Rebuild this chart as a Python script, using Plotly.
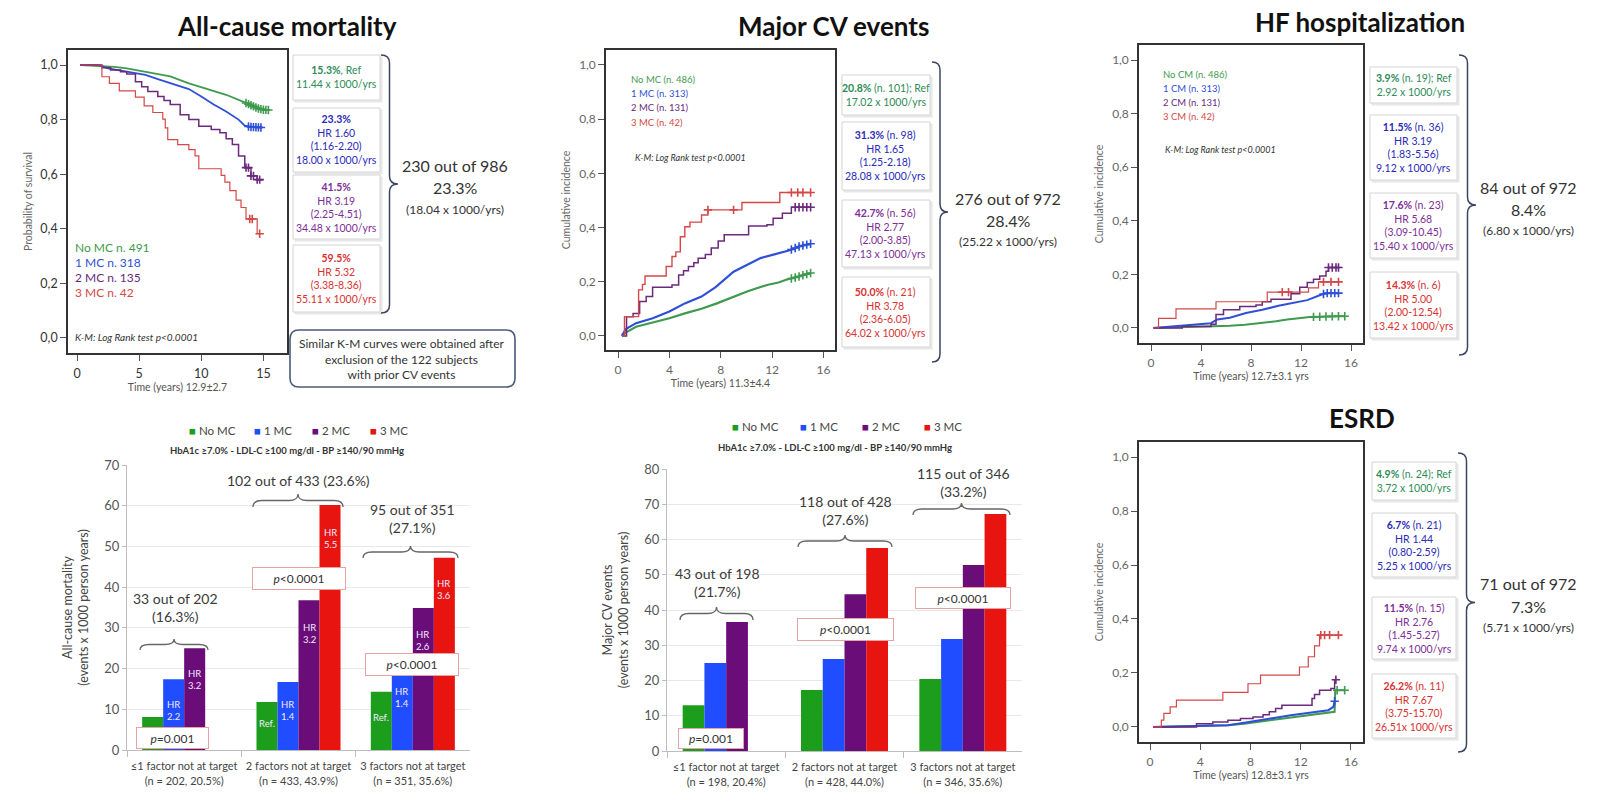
import numpy as np
import plotly.graph_objects as go

W, H = 1614, 807

# ====================== DATA ======================
series_names = ["No MC", "1 MC", "2 MC", "3 MC"]

# --- All-cause mortality: Kaplan-Meier survival ---
acm_nomc_t = [0.25, 2.0, 3.0, 4.0, 5.0, 5.9, 7.5, 9.0, 10.5, 12.0, 13.5, 14.5, 15.0, 15.4]
acm_nomc_s = [1.0, 0.997, 0.993, 0.988, 0.980, 0.972, 0.958, 0.933, 0.912, 0.891, 0.863, 0.842, 0.836, 0.835]
acm_1mc_t = [0.25, 1.7, 2.5, 4.0, 5.5, 6.5, 8.0, 9.0, 10.0, 11.0, 12.0, 13.0, 13.5, 14.0, 14.9]
acm_1mc_s = [1.0, 1.0, 0.988, 0.976, 0.964, 0.948, 0.927, 0.912, 0.885, 0.855, 0.830, 0.800, 0.778, 0.773, 0.771]
acm_2mc_t = [0.25, 2.0, 2.7, 3.5, 4.0, 4.7, 5.2, 5.7, 6.5, 7.0, 7.5, 8.3, 9.0, 9.8, 10.8, 11.5, 12.0, 12.5, 13.0, 13.5, 14.0, 14.5, 14.9]
acm_2mc_s = [1.0, 0.99, 0.982, 0.975, 0.967, 0.939, 0.920, 0.903, 0.885, 0.870, 0.855, 0.818, 0.800, 0.776, 0.764, 0.752, 0.730, 0.709, 0.667, 0.624, 0.594, 0.580, 0.576]
acm_3mc_t = [0.25, 2.0, 2.6, 3.4, 4.7, 5.4, 6.1, 6.9, 7.1, 7.3, 8.1, 9.0, 9.5, 9.8, 11.6, 11.9, 12.3, 12.8, 13.2, 13.6, 14.5, 14.8]
acm_3mc_s = [1.0, 0.957, 0.933, 0.905, 0.882, 0.850, 0.826, 0.802, 0.770, 0.727, 0.708, 0.690, 0.667, 0.620, 0.596, 0.571, 0.540, 0.505, 0.478, 0.436, 0.382, 0.382]

# --- Major CV events: cumulative incidence ---
mcv_nomc_t = [0.3, 0.6, 1.4, 2.7, 4.0, 5.2, 6.5, 7.7, 9.0, 10.1, 11.6, 12.5, 13.1, 14.0, 15.0]
mcv_nomc_y = [0, 0.012, 0.034, 0.050, 0.065, 0.083, 0.100, 0.120, 0.145, 0.165, 0.188, 0.197, 0.207, 0.218, 0.232]
mcv_1mc_t = [0.3, 0.6, 1.4, 2.7, 4.0, 5.2, 6.5, 7.6, 9.0, 10.1, 11.1, 12.1, 13.3, 14.1, 15.0]
mcv_1mc_y = [0, 0.025, 0.047, 0.065, 0.090, 0.120, 0.145, 0.180, 0.237, 0.262, 0.287, 0.300, 0.315, 0.330, 0.340]
mcv_2mc_t = [0.3, 0.66, 1.17, 1.68, 2.19, 2.69, 4.2, 4.72, 5.1, 5.48, 5.9, 6.24, 6.8, 7.26, 7.8, 8.27, 9.9, 10.17, 11.6, 12.08, 12.8, 13.5, 15.0]
mcv_2mc_y = [0, 0.071, 0.083, 0.127, 0.145, 0.180, 0.188, 0.225, 0.240, 0.256, 0.270, 0.287, 0.300, 0.324, 0.350, 0.373, 0.373, 0.406, 0.410, 0.434, 0.453, 0.475, 0.475]
mcv_3mc_t = [0.3, 0.5, 1.6, 1.9, 2.1, 3.75, 4.2, 4.5, 4.85, 5.2, 5.6, 6.5, 7.0, 9.65, 12.6, 15.0]
mcv_3mc_y = [0, 0.071, 0.170, 0.190, 0.221, 0.256, 0.293, 0.310, 0.366, 0.403, 0.420, 0.446, 0.465, 0.492, 0.529, 0.529]

# --- HF hospitalization: cumulative incidence ---
hf_nomc_t = [0.2, 2.0, 4.0, 6.3, 7.5, 8.9, 10.0, 10.9, 12.7, 15.0, 15.5]
hf_nomc_y = [0, 0.002, 0.004, 0.008, 0.012, 0.018, 0.025, 0.032, 0.041, 0.044, 0.044]
hf_1mc_t = [0.2, 2.5, 4.8, 5.3, 6.3, 7.6, 8.9, 10.2, 11.4, 12.5, 13.5, 14.0, 15.0]
hf_1mc_y = [0, 0.008, 0.018, 0.032, 0.038, 0.056, 0.068, 0.083, 0.095, 0.104, 0.122, 0.130, 0.130]
hf_2mc_t = [0.2, 2.5, 4.8, 5.2, 5.8, 7.1, 8.4, 8.9, 9.6, 11.2, 11.9, 12.5, 13.0, 13.5, 14.0, 14.2, 15.0]
hf_2mc_y = [0, 0.006, 0.014, 0.050, 0.068, 0.080, 0.086, 0.098, 0.107, 0.128, 0.152, 0.170, 0.182, 0.194, 0.212, 0.226, 0.226]
hf_3mc_t = [0.2, 0.6, 2.0, 5.2, 9.3, 12.6, 13.4, 15.0]
hf_3mc_y = [0, 0.036, 0.071, 0.098, 0.134, 0.150, 0.172, 0.172]

# --- ESRD: cumulative incidence ---
esrd_nomc_t = [0.24, 4.0, 6.2, 7.5, 8.7, 10.0, 11.2, 12.5, 13.7, 14.7, 14.75, 15.5]
esrd_nomc_y = [0, 0.003, 0.006, 0.012, 0.019, 0.027, 0.035, 0.043, 0.050, 0.056, 0.136, 0.136]
esrd_1mc_t = [0.24, 4.0, 6.2, 7.5, 8.7, 10.0, 11.2, 12.7, 14.2, 14.6, 14.7]
esrd_1mc_y = [0, 0.003, 0.006, 0.015, 0.025, 0.034, 0.043, 0.052, 0.062, 0.074, 0.095]
esrd_2mc_t = [0.24, 3.7, 5.0, 6.2, 7.2, 8.2, 9.0, 9.5, 10.0, 10.5, 12.9, 13.1, 13.5, 14.4, 14.7, 14.8]
esrd_2mc_y = [0, 0.012, 0.018, 0.025, 0.031, 0.037, 0.045, 0.056, 0.068, 0.080, 0.105, 0.120, 0.136, 0.142, 0.175, 0.175]
esrd_3mc_t = [0.24, 0.9, 1.1, 1.6, 2.1, 5.8, 7.8, 8.8, 11.9, 12.6, 13.1, 13.5, 15.0]
esrd_3mc_y = [0, 0.025, 0.050, 0.074, 0.099, 0.128, 0.160, 0.192, 0.222, 0.260, 0.300, 0.340, 0.340]

# censoring marks (times) near the end of follow-up
acm_cens = {"No MC": [13.6, 13.8, 14.0, 14.2, 14.4, 14.6, 14.8, 15.0, 15.2, 15.4],
            "1 MC": [13.8, 14.0, 14.2, 14.4, 14.6, 14.8],
            "2 MC": [13.6, 13.8, 14.0, 14.2, 14.5, 14.7],
            "3 MC": [13.9, 14.1, 14.7]}
mcv_cens = {"No MC": [13.5, 13.8, 14.1, 14.4, 14.7, 15.0],
            "1 MC": [13.5, 13.8, 14.1, 14.4, 14.7, 15.0],
            "2 MC": [13.8, 14.1, 14.4, 14.7, 15.0],
            "3 MC": [7.0, 9.0, 13.5, 14.0, 14.4, 15.0]}
hf_cens = {"No MC": [13.0, 13.5, 14.0, 14.5, 15.0, 15.5],
           "1 MC": [13.8, 14.1, 14.4, 14.7, 15.0],
           "2 MC": [14.2, 14.5, 14.8, 15.0],
           "3 MC": [10.5, 11.0, 13.8, 14.4, 15.0]}
esrd_cens = {"No MC": [14.9, 15.5],
             "1 MC": [14.7],
             "2 MC": [14.8],
             "3 MC": [13.6, 13.9, 14.3, 15.0]}

# --- Bar charts ---
acm_cats = ["≤1 factor not at target<br>(n = 202, 20.5%)",
            "2 factors not at target<br>(n = 433, 43.9%)",
            "3 factors not at target<br>(n = 351, 35.6%)"]
acm_rate_nomc = [8.1, 11.8, 14.3]
acm_rate_1mc = [17.4, 16.7, 20.0]
acm_rate_2mc = [25.0, 36.8, 34.9]
acm_rate_3mc = [None, 60.2, 47.2]

mcv_cats = ["≤1 factor not at target<br>(n = 198, 20.4%)",
            "2 factors not at target<br>(n = 428, 44.0%)",
            "3 factors not at target<br>(n = 346, 35.6%)"]
mcv_rate_nomc = [13.0, 17.3, 20.4]
mcv_rate_1mc = [25.0, 26.1, 31.8]
mcv_rate_2mc = [36.6, 44.5, 52.8]
mcv_rate_3mc = [None, 57.6, 67.2]

acm_hr_nomc = ["", "Ref.", "Ref."]
acm_hr_1mc = ["HR<br>2.2", "HR<br>1.4", "HR<br>1.4"]
acm_hr_2mc = ["HR<br>3.2", "HR<br>3.2", "HR<br>2.6"]
acm_hr_3mc = ["", "HR<br>5.5", "HR<br>3.6"]

# ====================== STYLE / HELPERS ======================
FONT = "Lato, 'Open Sans', sans-serif"
KM_COL = {"No MC": "#3f9a4e", "1 MC": "#2f4fd6", "2 MC": "#6b2a7c", "3 MC": "#d44848"}
TXT_COL = {"No MC": "#2e8b57", "1 MC": "#2a2ab8", "2 MC": "#7e2e96", "3 MC": "#d83232"}
BAR_COL = {"No MC": "#1c9e1c", "1 MC": "#1f4dff", "2 MC": "#6a0d78", "3 MC": "#e81410"}


def px(x):
    return x / W


def py(y):
    return 1 - y / H


annotations = []
shapes = []


def text(x, y, s, size=12, color="#333", xanchor="center", yanchor="middle", align="center", **kw):
    annotations.append(dict(x=px(x), y=py(y), xref="paper", yref="paper", text=s, showarrow=False,
                            xanchor=xanchor, yanchor=yanchor, align=align,
                            font=dict(size=size, color=color, family=FONT), **kw))


def path(points):
    out = ""
    for p in points:
        cmd, coords = p[0], p[1:]
        pairs = []
        for i in range(0, len(coords), 2):
            pairs.append(f"{px(coords[i]):.5f},{py(coords[i + 1]):.5f}")
        out += cmd + " " + " ".join(pairs) + " "
    return out.strip()


def vbrace(x0, x1, y0, y1, color="#3d4660", width=1.5):
    xm, ym, r = (x0 + x1) / 2, (y0 + y1) / 2, 8
    d = path([("M", x0, y0), ("Q", xm, y0, xm, y0 + r), ("L", xm, ym - r), ("Q", xm, ym, x1, ym),
              ("Q", xm, ym, xm, ym + r), ("L", xm, y1 - r), ("Q", xm, y1, x0, y1)])
    shapes.append(dict(type="path", path=d, xref="paper", yref="paper", line=dict(color=color, width=width)))


def hbrace(x0, x1, ybot, ytip, color="#666", width=1.3):
    xm, yc, r = (x0 + x1) / 2, (ybot + ytip) / 2, 9
    d = path([("M", x0, ybot), ("Q", x0, yc, x0 + r, yc), ("L", xm - r, yc), ("Q", xm, yc, xm, ytip),
              ("Q", xm, yc, xm + r, yc), ("L", x1 - r, yc), ("Q", x1, yc, x1, ybot)])
    shapes.append(dict(type="path", path=d, xref="paper", yref="paper", line=dict(color=color, width=width)))


def rect(x0, y0, x1, y1, line="#cfcfcf", fill="white", width=1, layer="below"):
    shapes.append(dict(type="rect", x0=px(x0), x1=px(x1), y0=py(y1), y1=py(y0), xref="paper", yref="paper",
                       line=dict(color=line, width=width), fillcolor=fill, layer=layer))


def side_boxes(x0, x1, boxes, texts):
    for (y0, y1), (g, s) in zip(boxes, texts):
        rect(x0 + 2, y0 + 2, x1 + 2, y1 + 2, line="#e4e4e4", fill="#ececec")
        rect(x0, y0, x1, y1, line="#d4d4d4", fill="white")
        text((x0 + x1) / 2, (y0 + y1) / 2, s, size=10.5, color=TXT_COL[g])


fig = go.Figure()


def km(t, y, group, axis, shape, width, cens):
    fig.add_trace(go.Scatter(x=t, y=y, mode="lines", xaxis="x" + axis, yaxis="y" + axis,
                             line=dict(color=KM_COL[group], width=width, shape=shape),
                             showlegend=False, hoverinfo="skip"))
    ta, ya = np.array(t), np.array(y)
    tc = np.array(cens)
    if shape == "hv":
        idx = np.clip(np.searchsorted(ta, tc, side="right") - 1, 0, len(ta) - 1)
        yc = ya[idx]
    else:
        yc = np.interp(tc, ta, ya)
    fig.add_trace(go.Scatter(x=tc, y=yc, mode="markers", xaxis="x" + axis, yaxis="y" + axis,
                             marker=dict(symbol="cross-thin", size=6, line=dict(color=KM_COL[group], width=1.6)),
                             showlegend=False, hoverinfo="skip"))


# ---------------- KM panels ----------------
km(acm_nomc_t, acm_nomc_s, "No MC", "", "linear", 1.8, acm_cens["No MC"])
km(acm_1mc_t, acm_1mc_s, "1 MC", "", "linear", 1.8, acm_cens["1 MC"])
km(acm_2mc_t, acm_2mc_s, "2 MC", "", "hv", 1.5, acm_cens["2 MC"])
km(acm_3mc_t, acm_3mc_s, "3 MC", "", "hv", 1.2, acm_cens["3 MC"])

km(mcv_nomc_t, mcv_nomc_y, "No MC", "2", "linear", 2.2, mcv_cens["No MC"])
km(mcv_1mc_t, mcv_1mc_y, "1 MC", "2", "linear", 2.2, mcv_cens["1 MC"])
km(mcv_2mc_t, mcv_2mc_y, "2 MC", "2", "hv", 1.5, mcv_cens["2 MC"])
km(mcv_3mc_t, mcv_3mc_y, "3 MC", "2", "hv", 1.4, mcv_cens["3 MC"])

km(hf_nomc_t, hf_nomc_y, "No MC", "3", "linear", 2.0, hf_cens["No MC"])
km(hf_1mc_t, hf_1mc_y, "1 MC", "3", "linear", 2.0, hf_cens["1 MC"])
km(hf_2mc_t, hf_2mc_y, "2 MC", "3", "hv", 1.5, hf_cens["2 MC"])
km(hf_3mc_t, hf_3mc_y, "3 MC", "3", "hv", 1.2, hf_cens["3 MC"])

km(esrd_nomc_t, esrd_nomc_y, "No MC", "4", "linear", 2.0, esrd_cens["No MC"])
km(esrd_1mc_t, esrd_1mc_y, "1 MC", "4", "linear", 2.0, esrd_cens["1 MC"])
km(esrd_2mc_t, esrd_2mc_y, "2 MC", "4", "hv", 1.5, esrd_cens["2 MC"])
km(esrd_3mc_t, esrd_3mc_y, "3 MC", "4", "hv", 1.2, esrd_cens["3 MC"])

# ---------------- Bar panels ----------------
acm_rates = [acm_rate_nomc, acm_rate_1mc, acm_rate_2mc, acm_rate_3mc]
mcv_rates = [mcv_rate_nomc, mcv_rate_1mc, mcv_rate_2mc, mcv_rate_3mc]
for g, vals in zip(series_names, acm_rates):
    fig.add_trace(go.Bar(x=acm_cats, y=vals, name=g, marker=dict(color=BAR_COL[g], line=dict(width=0)),
                         xaxis="x5", yaxis="y5", showlegend=False, hoverinfo="skip"))
for g, vals in zip(series_names, mcv_rates):
    fig.add_trace(go.Bar(x=mcv_cats, y=vals, name=g, marker=dict(color=BAR_COL[g], line=dict(width=0)),
                         xaxis="x6", yaxis="y6", showlegend=False, hoverinfo="skip"))

# HR labels inside the bars of the all-cause chart
hr_labels = [acm_hr_nomc, acm_hr_1mc, acm_hr_2mc, acm_hr_3mc]
hr_y = [[None, 6.4, 8.1], [9.6, 9.8, 12.8], [17.2, 28.7, 26.8], [None, 52.0, 39.3]]
bar_px5 = (343 / 3) * (1 - 0.265) / 4
for si in range(4):
    for gi in range(3):
        lab = hr_labels[si][gi]
        if lab:
            annotations.append(dict(x=gi, y=hr_y[si][gi], xref="x5", yref="y5", text=lab, showarrow=False,
                                    xanchor="center", yanchor="middle",
                                    xshift=(si - 1.5) * bar_px5, font=dict(size=9.5, color="#f3e8ff", family=FONT)))

# ---------------- axes ----------------
yt = [0, 0.2, 0.4, 0.6, 0.8, 1.0]
ytt = ["0,0", "0,2", "0,4", "0,6", "0,8", "1,0"]


def km_axes(n, xd, yd, xr, yr, xticks, xtitle, ytitle, tcol, tsize):
    ax = dict(domain=[px(xd[0]), px(xd[1])], range=xr, anchor="y" + n, tickvals=xticks, ticks="outside",
              ticklen=6, tickcolor="#555", showline=True, linecolor="#333", linewidth=1.6, mirror=True,
              showgrid=False, zeroline=False, automargin=False, ticklabelstandoff=2,
              tickfont=dict(size=tsize, color=tcol, family=FONT),
              title=dict(text=xtitle, font=dict(size=10.5, color="#555", family=FONT), standoff=3))
    ay = dict(domain=[py(yd[1]), py(yd[0])], range=yr, anchor="x" + n, tickvals=yt, ticktext=ytt,
              ticks="outside", ticklen=6, tickcolor="#555", showline=True, linecolor="#333", linewidth=1.6,
              mirror=True, showgrid=False, zeroline=False, automargin=False,
              tickfont=dict(size=tsize, color=tcol, family=FONT),
              title=dict(text=ytitle, font=dict(size=10.5, color="#666", family=FONT), standoff=6))
    return ax, ay


x1, y1 = km_axes("", (68, 287), (50, 353), [-0.73, 16.9], [-0.055, 1.055], [0, 5, 10, 15],
                 "Time (years) 12.9±2.7", "Probability of survival", "#333", 12.5)
x2, y2 = km_axes("2", (606, 835), (50, 350), [-0.94, 16.9], [-0.052, 1.055], [0, 4, 8, 12, 16],
                 "Time (years) 11.3±4.4", "Cumulative incidence", "#666", 12)
x3, y3 = km_axes("3", (1139, 1363), (45, 343), [-0.96, 16.96], [-0.056, 1.056], [0, 4, 8, 12, 16],
                 "Time (years) 12.7±3.1 yrs", "Cumulative incidence", "#666", 12)
x4, y4 = km_axes("4", (1139, 1363), (442, 742), [-0.88, 16.96], [-0.056, 1.056], [0, 4, 8, 12, 16],
                 "Time (years) 12.8±3.1 yrs", "Cumulative incidence", "#666", 12)
x1["anchor"] = "y"
y1["anchor"] = "x"


def bar_axes(n, xd, yd, ymax, ytitle):
    ax = dict(domain=[px(xd[0]), px(xd[1])], anchor="y" + n, type="category", showline=True,
              linecolor="#bdbdbd", linewidth=1.2, ticks="outside", tickson="boundaries", ticklen=6,
              tickcolor="#bdbdbd", showgrid=False, tickangle=0, automargin=False, ticklabelstandoff=6,
              tickfont=dict(size=11, color="#444", family=FONT))
    ay = dict(domain=[py(yd[1]), py(yd[0])], anchor="x" + n, range=[0, ymax], dtick=10, showline=True,
              linecolor="#bdbdbd", linewidth=1.2, ticks="outside", ticklen=4, tickcolor="#bdbdbd",
              showgrid=True, gridcolor="#e8e8e8", zeroline=False, automargin=False,
              tickfont=dict(size=13, color="#555", family=FONT),
              title=dict(text=ytitle, font=dict(size=12.5, color="#444", family=FONT), standoff=12))
    return ax, ay


x5, y5 = bar_axes("5", (127, 470), (465, 750), 70, "All-cause mortality<br>(events x 1000 person years)")
x6, y6 = bar_axes("6", (667, 1022), (469, 751), 80, "Major CV events<br>(events x 1000 person years)")

# ---------------- titles ----------------
text(287, 26, "<b>All-cause mortality</b>", size=26, color="#111")
text(833, 26, "<b>Major CV events</b>", size=26, color="#111")
text(1360, 22, "<b>HF hospitalization</b>", size=26, color="#111")
text(1362, 418, "<b>ESRD</b>", size=26, color="#111")

# ---------------- in-plot legends ----------------
for i, (g, lab) in enumerate(zip(series_names, ["No MC n. 491", "1 MC n. 318", "2 MC n. 135", "3 MC n. 42"])):
    text(73, 247 + i * 15.3, lab, size=12, color=KM_COL[g], xanchor="left")
text(73, 337, "<i>K-M: Log Rank test p<0.0001</i>", size=10, color="#333", xanchor="left")

for i, (g, lab) in enumerate(zip(series_names, ["No MC (n. 486)", "1 MC (n. 313)", "2 MC (n. 131)", "3 MC (n. 42)"])):
    text(629, 80 + i * 14, lab, size=9.5, color=KM_COL[g], xanchor="left")
text(633, 157, "<i>K-M: Log Rank test p<0.0001</i>", size=9, color="#333", xanchor="left")

for i, (g, lab) in enumerate(zip(series_names, ["No CM (n. 486)", "1 CM (n. 313)", "2 CM (n. 131)", "3 CM (n. 42)"])):
    text(1161, 75 + i * 13.7, lab, size=9.5, color=KM_COL[g], xanchor="left")
text(1163, 150, "<i>K-M: Log Rank test p<0.0001</i>", size=9, color="#333", xanchor="left")

# ---------------- side boxes ----------------
side_boxes(293, 380, [(55, 100), (108, 172), (175, 239), (245, 312)], [
    ("No MC", "<b>15.3%</b>, Ref<br>11.44 x 1000/yrs"),
    ("1 MC", "<b>23.3%</b><br>HR 1.60<br>(1.16-2.20)<br>18.00 x 1000/yrs"),
    ("2 MC", "<b>41.5%</b><br>HR 3.19<br>(2.25-4.51)<br>34.48 x 1000/yrs"),
    ("3 MC", "<b>59.5%</b><br>HR 5.32<br>(3.38-8.36)<br>55.11 x 1000/yrs")])
side_boxes(842, 930, [(75, 115), (122, 190), (200, 267), (277, 347)], [
    ("No MC", "<b>20.8%</b> (n. 101); Ref<br>17.02 x 1000/yrs"),
    ("1 MC", "<b>31.3%</b> (n. 98)<br>HR 1.65<br>(1.25-2.18)<br>28.08 x 1000/yrs"),
    ("2 MC", "<b>42.7%</b> (n. 56)<br>HR 2.77<br>(2.00-3.85)<br>47.13 x 1000/yrs"),
    ("3 MC", "<b>50.0%</b> (n. 21)<br>HR 3.78<br>(2.36-6.05)<br>64.02 x 1000/yrs")])
side_boxes(1370, 1457, [(67, 103), (115, 180), (193, 258), (272, 338)], [
    ("No MC", "<b>3.9%</b> (n. 19); Ref<br>2.92 x 1000/yrs"),
    ("1 MC", "<b>11.5%</b> (n. 36)<br>HR 3.19<br>(1.83-5.56)<br>9.12 x 1000/yrs"),
    ("2 MC", "<b>17.6%</b> (n. 23)<br>HR 5.68<br>(3.09-10.45)<br>15.40 x 1000/yrs"),
    ("3 MC", "<b>14.3%</b> (n. 6)<br>HR 5.00<br>(2.00-12.54)<br>13.42 x 1000/yrs")])
side_boxes(1372, 1456, [(462, 500), (513, 577), (597, 659), (674, 738)], [
    ("No MC", "<b>4.9%</b> (n. 24); Ref<br>3.72 x 1000/yrs"),
    ("1 MC", "<b>6.7%</b> (n. 21)<br>HR 1.44<br>(0.80-2.59)<br>5.25 x 1000/yrs"),
    ("2 MC", "<b>11.5%</b> (n. 15)<br>HR 2.76<br>(1.45-5.27)<br>9.74 x 1000/yrs"),
    ("3 MC", "<b>26.2%</b> (n. 11)<br>HR 7.67<br>(3.75-15.70)<br>26.51x 1000/yrs")])

vbrace(381, 398, 55, 313)
vbrace(932, 948, 62, 362)
vbrace(1459, 1476, 55, 355)
vbrace(1458, 1475, 453, 752)


def summary(xc, y0, a, b, c):
    text(xc, y0, a, size=16, color="#333")
    text(xc, y0 + 23, b, size=16, color="#333")
    text(xc, y0 + 44, c, size=12, color="#333")


summary(455, 165, "230 out of 986", "23.3%", "(18.04 x 1000/yrs)")
summary(1008, 198, "276 out of 972", "28.4%", "(25.22 x 1000/yrs)")
summary(1528, 187, "84 out of 972", "8.4%", "(6.80 x 1000/yrs)")
summary(1528, 583, "71 out of 972", "7.3%", "(5.71 x 1000/yrs)")

# rounded note box
r = 9
shapes.append(dict(type="path", xref="paper", yref="paper", line=dict(color="#4c5a78", width=1.6),
                   path=path([("M", 290 + r, 330), ("L", 515 - r, 330), ("Q", 515, 330, 515, 330 + r),
                              ("L", 515, 387 - r), ("Q", 515, 387, 515 - r, 387), ("L", 290 + r, 387),
                              ("Q", 290, 387, 290, 387 - r), ("L", 290, 330 + r), ("Q", 290, 330, 290 + r, 330)])))
text(402, 359, "Similar K-M curves were obtained after<br>exclusion of the 122 subjects<br>with prior CV events",
     size=12, color="#333")

# ---------------- bar chart decorations ----------------
def bar_legend(y, xs):
    for g, x in zip(series_names, xs):
        text(x, y, f"<span style='color:{BAR_COL[g]}'>■</span> {g}", size=11.5, color="#444", xanchor="left")


bar_legend(430, [187, 252, 310, 368])
bar_legend(427, [730, 798, 860, 922])
subtitle = "<b>HbA1c ≥7.0% - LDL-C ≥100 mg/dl - BP ≥140/90 mmHg</b>"
text(287, 450, subtitle, size=9.5, color="#333")
text(835, 447, subtitle, size=9.5, color="#333")


def pbox(xc, yc, w, h, s):
    annotations.append(dict(x=px(xc), y=py(yc), xref="paper", yref="paper", text=s, showarrow=False,
                            xanchor="center", yanchor="middle",
                            width=w, height=h, bgcolor="white", bordercolor="#e7a3a3", borderwidth=1,
                            borderpad=0, font=dict(size=12, color="#333", family=FONT)))


pbox(172.5, 737.5, 71, 20, "<i>p</i>=0.001")
pbox(298.5, 578, 92, 21, "<i>p</i><0.0001")
pbox(411.5, 664, 92, 21, "<i>p</i><0.0001")
pbox(711, 738, 64, 19, "<i>p</i>=0.001")
pbox(845, 629, 95, 21, "<i>p</i><0.0001")
pbox(963, 598, 94, 20, "<i>p</i><0.0001")

BT = 14
hbrace(140, 208, 650, 639)
text(175, 607, "33 out of 202<br>(16.3%)", size=BT, color="#3a3a3a")
hbrace(253, 343, 507, 494)
text(298, 480, "102 out of 433 (23.6%)", size=BT, color="#3a3a3a")
hbrace(363, 458, 558, 546)
text(412, 518, "95 out of 351<br>(27.1%)", size=BT, color="#3a3a3a")

hbrace(680, 753, 620, 607)
text(717, 582, "43 out of 198<br>(21.7%)", size=BT, color="#3a3a3a")
hbrace(798, 892, 547, 535)
text(845, 510, "118 out of 428<br>(27.6%)", size=BT, color="#3a3a3a")
hbrace(913, 1010, 515, 503)
text(963, 482, "115 out of 346<br>(33.2%)", size=BT, color="#3a3a3a")

fig.update_layout(
    width=W, height=H, margin=dict(l=0, r=0, t=0, b=0, autoexpand=False),
    paper_bgcolor="white", plot_bgcolor="white",
    font=dict(family=FONT), showlegend=False, barmode="group", bargap=0.265, bargroupgap=0,
    xaxis=x1, yaxis=y1, xaxis2=x2, yaxis2=y2, xaxis3=x3, yaxis3=y3, xaxis4=x4, yaxis4=y4,
    xaxis5=x5, yaxis5=y5, xaxis6=x6, yaxis6=y6,
    annotations=annotations, shapes=shapes,
)

fig.write_html("out.html")
